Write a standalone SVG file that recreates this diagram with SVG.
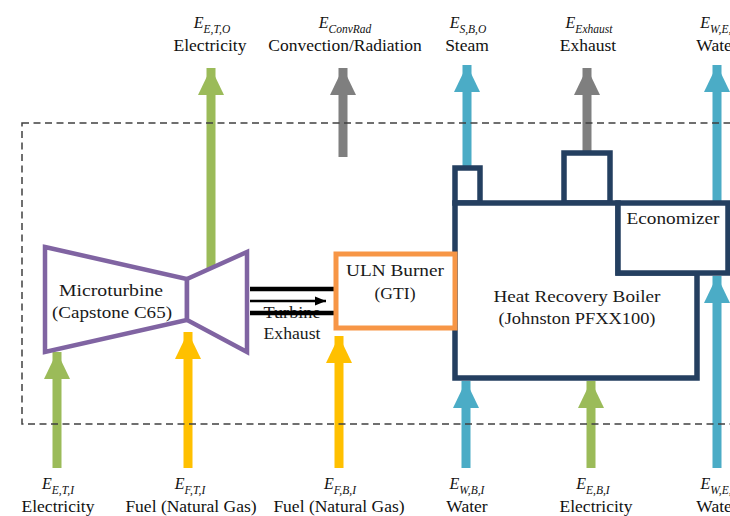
<svg xmlns="http://www.w3.org/2000/svg" width="730" height="516" viewBox="0 0 730 516">
<style>
  .lbl{font-family:"Liberation Serif","Times New Roman",serif;font-size:17.5px;fill:#111;text-anchor:middle}
  .sym{font-style:italic;font-size:16px}
  .sub{font-style:italic;font-size:11.5px}
  .box{font-family:"Liberation Serif","Times New Roman",serif;font-size:17px;fill:#1a1a1a;text-anchor:middle}
  .shaft{stroke-width:9;fill:none}
  .g{stroke:#9BBB59}.y{stroke:#FFC000}.b{stroke:#4BACC6}.k{stroke:#7F7F7F}
  .navy{fill:#fff;stroke:#243F60;stroke-width:5.5}
  .purple{fill:#fff;stroke:#8064A2;stroke-width:4.5;stroke-linejoin:miter}
</style>
<defs>
  <marker id="hg" markerUnits="userSpaceOnUse" markerWidth="28" markerHeight="28" viewBox="0 0 28 28" refX="27" refY="14" orient="auto"><path d="M0,1 L27,14 L0,27 z" fill="#9BBB59"/></marker>
  <marker id="hy" markerUnits="userSpaceOnUse" markerWidth="28" markerHeight="28" viewBox="0 0 28 28" refX="27" refY="14" orient="auto"><path d="M0,1 L27,14 L0,27 z" fill="#FFC000"/></marker>
  <marker id="hb" markerUnits="userSpaceOnUse" markerWidth="28" markerHeight="28" viewBox="0 0 28 28" refX="27" refY="14" orient="auto"><path d="M0,1 L27,14 L0,27 z" fill="#4BACC6"/></marker>
  <marker id="hk" markerUnits="userSpaceOnUse" markerWidth="28" markerHeight="28" viewBox="0 0 28 28" refX="27" refY="14" orient="auto"><path d="M0,1 L27,14 L0,27 z" fill="#7F7F7F"/></marker>
  <marker id="hblack" markerUnits="userSpaceOnUse" markerWidth="12" markerHeight="10" viewBox="0 0 12 10" refX="11" refY="5" orient="auto"><path d="M0,0.5 L11,5 L0,9.5 z" fill="#000"/></marker>
</defs>
<rect width="730" height="516" fill="#fff"/>

<g id="connectors">
  <!-- outputs -->
  <line class="shaft g" x1="211" y1="268" x2="211" y2="68" marker-end="url(#hg)"/>
  <line class="shaft k" x1="343" y1="157" x2="343" y2="68" marker-end="url(#hk)"/>
  <line class="shaft b" x1="467" y1="168" x2="467" y2="65" marker-end="url(#hb)"/>
  <line class="shaft k" x1="587" y1="153" x2="587" y2="68" marker-end="url(#hk)"/>
  <line class="shaft b" x1="717" y1="203" x2="717" y2="65" marker-end="url(#hb)"/>
  <!-- inputs -->
  <line class="shaft g" x1="57" y1="468" x2="57" y2="352" marker-end="url(#hg)"/>
  <line class="shaft y" x1="188" y1="468" x2="188" y2="332" marker-end="url(#hy)"/>
  <line class="shaft y" x1="339" y1="468" x2="339" y2="336" marker-end="url(#hy)"/>
  <line class="shaft b" x1="466" y1="468" x2="466" y2="381" marker-end="url(#hb)"/>
  <line class="shaft g" x1="591" y1="468" x2="591" y2="381" marker-end="url(#hg)"/>
  <line class="shaft b" x1="717" y1="468" x2="717" y2="276" marker-end="url(#hb)"/>
  <!-- turbine exhaust -->
  <text class="box" x="292" y="318" textLength="57" lengthAdjust="spacingAndGlyphs">Turbine</text>
  <text class="box" x="292" y="339" textLength="57" lengthAdjust="spacingAndGlyphs">Exhaust</text>
  <line x1="250" y1="289" x2="336" y2="289" stroke="#000" stroke-width="4.5"/>
  <line x1="250" y1="313" x2="336" y2="313" stroke="#000" stroke-width="4.5"/>
  <line x1="250" y1="301" x2="326" y2="301" stroke="#000" stroke-width="2.5" marker-end="url(#hblack)"/>
</g>

<rect id="boundary" x="22" y="123" width="730" height="301" fill="none" stroke="#404040" stroke-width="1.5" stroke-dasharray="7,4.5"/>

<g id="microturbine">
  <polygon class="purple" points="45,247 187,279 187,320 45,352"/>
  <polygon class="purple" points="187,279 247,252 247,352 187,320"/>
  <text class="box" x="111" y="296" textLength="104" lengthAdjust="spacingAndGlyphs">Microturbine</text>
  <text class="box" x="112" y="318" textLength="120" lengthAdjust="spacingAndGlyphs">(Capstone C65)</text>
</g>

<g id="boiler">
  <rect class="navy" x="455" y="168" width="25" height="35"/>
  <rect class="navy" x="564" y="153" width="46" height="50"/>
  <polygon class="navy" points="455,203 618,203 618,273 697,273 697,378 455,378"/>
  <text class="box" x="577" y="302" textLength="167" lengthAdjust="spacingAndGlyphs">Heat Recovery Boiler</text>
  <text class="box" x="577" y="324" textLength="157" lengthAdjust="spacingAndGlyphs">(Johnston PFXX100)</text>
</g>

<g id="economizer">
  <rect class="navy" x="618" y="203" width="110" height="70"/>
  <text class="box" x="673" y="224" textLength="93" lengthAdjust="spacingAndGlyphs">Economizer</text>
</g>

<g id="burner">
  <rect x="336" y="254" width="119" height="74" fill="#fff" stroke="#F79646" stroke-width="5"/>
  <text class="box" x="395" y="276" textLength="98" lengthAdjust="spacingAndGlyphs">ULN Burner</text>
  <text class="box" x="395" y="299" textLength="41" lengthAdjust="spacingAndGlyphs">(GTI)</text>
</g>

<g id="labels-top">
  <text class="lbl" x="212" y="28"><tspan class="sym">E</tspan><tspan class="sub" dy="5">E,T,O</tspan></text>
  <text class="lbl" x="210" y="51">Electricity</text>
  <text class="lbl" x="345" y="28"><tspan class="sym">E</tspan><tspan class="sub" dy="5">ConvRad</tspan></text>
  <text class="lbl" x="345" y="51">Convection/Radiation</text>
  <text class="lbl" x="468" y="28"><tspan class="sym">E</tspan><tspan class="sub" dy="5">S,B,O</tspan></text>
  <text class="lbl" x="467" y="51">Steam</text>
  <text class="lbl" x="589" y="28"><tspan class="sym">E</tspan><tspan class="sub" dy="5">Exhaust</tspan></text>
  <text class="lbl" x="588" y="51">Exhaust</text>
  <text class="lbl" x="720" y="28"><tspan class="sym">E</tspan><tspan class="sub" dy="5">W,E,O</tspan></text>
  <text class="lbl" x="717" y="51">Water</text>
</g>

<g id="labels-bottom">
  <text class="lbl" x="58" y="489"><tspan class="sym">E</tspan><tspan class="sub" dy="5">E,T,I</tspan></text>
  <text class="lbl" x="58" y="512">Electricity</text>
  <text class="lbl" x="190" y="489"><tspan class="sym">E</tspan><tspan class="sub" dy="5">F,T,I</tspan></text>
  <text class="lbl" x="191" y="512">Fuel (Natural Gas)</text>
  <text class="lbl" x="340" y="489"><tspan class="sym">E</tspan><tspan class="sub" dy="5">F,B,I</tspan></text>
  <text class="lbl" x="339" y="512">Fuel (Natural Gas)</text>
  <text class="lbl" x="467" y="489"><tspan class="sym">E</tspan><tspan class="sub" dy="5">W,B,I</tspan></text>
  <text class="lbl" x="467" y="512">Water</text>
  <text class="lbl" x="593" y="489"><tspan class="sym">E</tspan><tspan class="sub" dy="5">E,B,I</tspan></text>
  <text class="lbl" x="596" y="512">Electricity</text>
  <text class="lbl" x="718" y="489"><tspan class="sym">E</tspan><tspan class="sub" dy="5">W,E,I</tspan></text>
  <text class="lbl" x="717" y="512">Water</text>
</g>
</svg>
